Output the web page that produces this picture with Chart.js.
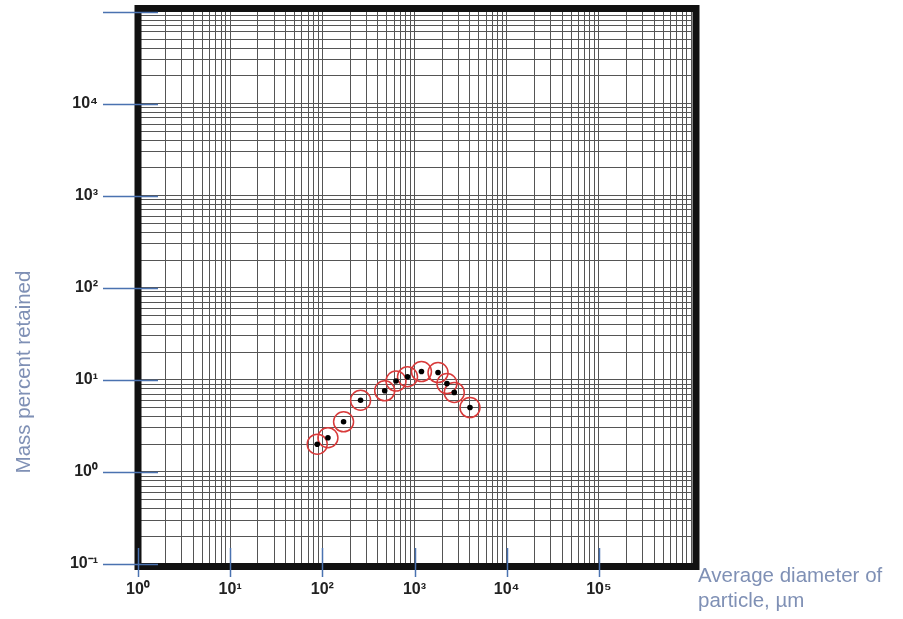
<!DOCTYPE html>
<html>
<head>
<meta charset="utf-8">
<script src="https://cdn.jsdelivr.net/npm/chart.js@4.4.1/dist/chart.umd.min.js"></script>
<style>
  html, body { margin: 0; padding: 0; background: #fff; }
  #wrap { width: 903px; height: 619px; position: relative; }
</style>
</head>
<body>
<div id="wrap"><canvas id="sieveChart" width="903" height="619"></canvas></div>
<script>
// particle size distribution
const diameters = [88, 115, 170, 260, 475, 630, 840, 1190, 1800, 2250, 2700, 4000];
const massPercent = [2.0, 2.35, 3.5, 6.0, 7.6, 9.7, 10.8, 12.3, 12.0, 9.1, 7.3, 5.0];

// decade exponents and their labels
const xDecades = [0, 1, 2, 3, 4, 5, 6];
const xTickLabels = ['10⁰', '10¹', '10²', '10³', '10⁴', '10⁵', ''];
const yDecades = [-1, 0, 1, 2, 3, 4, 5];
const yTickLabels = ['10⁻¹', '10⁰', '10¹', '10²', '10³', '10⁴', ''];

const yTitle = 'Mass percent retained';
const xTitle = ['Average diameter of', 'particle, µm'];

const logTicks = (decades) => {
  const out = [];
  for (let i = 0; i < decades.length - 1; i++) {
    for (let d = 1; d <= 9; d++) out.push({ value: d * Math.pow(10, decades[i]) });
  }
  out.push({ value: Math.pow(10, decades[decades.length - 1]) });
  return out;
};

const decadeLabel = (value, decades, labels) => {
  const e = Math.log10(value);
  if (Math.abs(e - Math.round(e)) > 1e-6) return '';
  const i = decades.indexOf(Math.round(e));
  return i < 0 ? '' : labels[i];
};

const points = diameters.map((d, i) => ({ x: d, y: massPercent[i] }));

const framePlugin = {
  id: 'frame',
  afterDraw(chart) {
    const { ctx, chartArea: ca, scales } = chart;
    ctx.save();
    // thick black frame
    ctx.strokeStyle = '#111';
    ctx.lineWidth = 7;
    ctx.strokeRect(ca.left, ca.top - 3, ca.right - ca.left + 5, ca.bottom - ca.top + 5.5);

    // blue decade tick marks
    ctx.strokeStyle = '#4a72b0';
    ctx.lineWidth = 1.5;
    yDecades.forEach(e => {
      const py = Math.round(scales.y.getPixelForValue(Math.pow(10, e))) + 0.5;
      ctx.beginPath();
      ctx.moveTo(ca.left - 35, py);
      ctx.lineTo(ca.left + 20, py);
      ctx.stroke();
    });
    xDecades.slice(0, -1).forEach(e => {
      const px = Math.round(scales.x.getPixelForValue(Math.pow(10, e))) + 0.5;
      ctx.beginPath();
      ctx.moveTo(px, ca.bottom - 16);
      ctx.lineTo(px, ca.bottom + 13);
      ctx.stroke();
    });

    // axis titles
    ctx.fillStyle = '#7f90b5';
    ctx.font = '20.5px "Liberation Sans", Arial, sans-serif';
    ctx.save();
    ctx.translate(24, 372);
    ctx.rotate(-Math.PI / 2);
    ctx.textAlign = 'center';
    ctx.textBaseline = 'middle';
    ctx.fillText(yTitle, 0, 0);
    ctx.restore();
    ctx.textAlign = 'left';
    ctx.textBaseline = 'alphabetic';
    ctx.fillText(xTitle[0], ca.right + 7, 582);
    ctx.fillText(xTitle[1], ca.right + 7, 607);
    ctx.restore();
  }
};

const ctx = document.getElementById('sieveChart').getContext('2d');
new Chart(ctx, {
  type: 'scatter',
  data: {
    datasets: [
      {
        data: points,
        pointRadius: 2.8,
        pointBackgroundColor: '#000',
        pointBorderWidth: 0
      },
      {
        data: points,
        pointRadius: 10,
        pointBackgroundColor: 'rgba(0,0,0,0)',
        pointBorderColor: '#d83a3a',
        pointBorderWidth: 1.5
      }
    ]
  },
  options: {
    responsive: false,
    animation: false,
    layout: { padding: { left: 0, right: 212, top: 10, bottom: 0 } },
    plugins: {
      legend: { display: false },
      tooltip: { enabled: false }
    },
    scales: {
      x: {
        type: 'logarithmic',
        min: 1,
        max: 1e6,
        afterBuildTicks: s => { s.ticks = logTicks(xDecades); },
        afterFit: s => { s.height = 55; s.paddingLeft = 0; s.paddingRight = 0; },
        border: { display: false },
        grid: { color: '#555', lineWidth: 1, drawTicks: false },
        ticks: {
          autoSkip: false,
          maxRotation: 0,
          padding: 16,
          color: '#222',
          font: { family: '"Liberation Sans", Arial, sans-serif', size: 16, weight: 'bold' },
          callback: v => decadeLabel(v, xDecades, xTickLabels)
        }
      },
      y: {
        type: 'logarithmic',
        min: 0.1,
        max: 1e5,
        afterBuildTicks: s => { s.ticks = logTicks(yDecades); },
        afterFit: s => { s.width = 138; s.paddingTop = 0; s.paddingBottom = 0; },
        border: { display: false },
        grid: { color: '#555', lineWidth: 1, drawTicks: false },
        ticks: {
          autoSkip: false,
          padding: 40,
          color: '#222',
          font: { family: '"Liberation Sans", Arial, sans-serif', size: 16, weight: 'bold' },
          callback: v => decadeLabel(v, yDecades, yTickLabels)
        }
      }
    }
  },
  plugins: [framePlugin]
});
</script>
</body>
</html>
